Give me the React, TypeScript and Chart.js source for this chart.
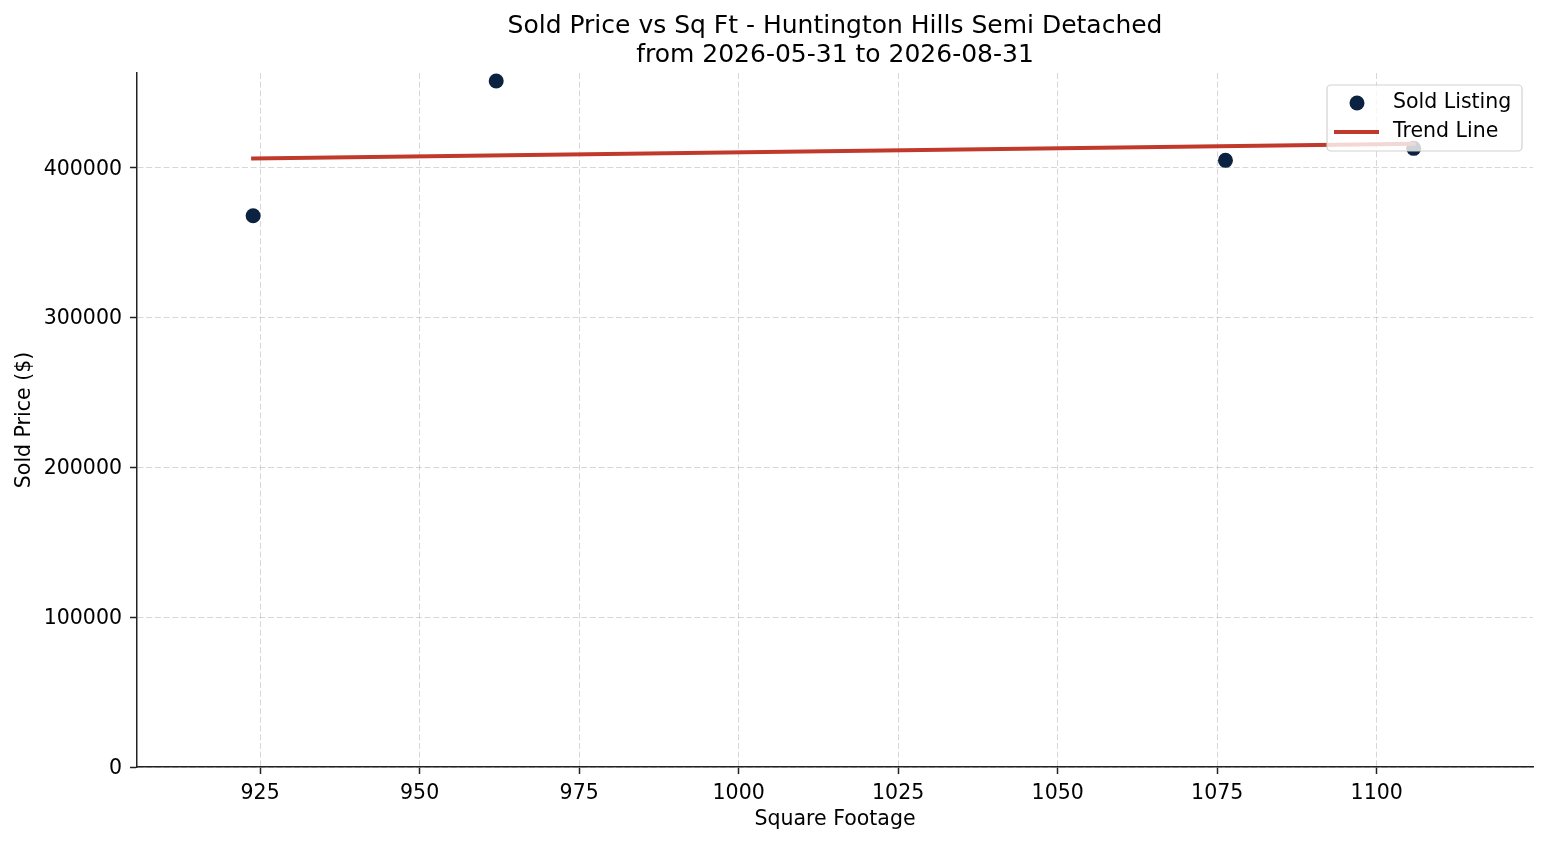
import React, { useEffect, useRef } from "react";
import { Chart, registerables } from "chart.js";

Chart.register(...registerables);

const titleLines = [
  "Sold Price vs Sq Ft - Huntington Hills Semi Detached",
  "from 2026-05-31 to 2026-08-31",
];
const xAxisTitle = "Square Footage";
const yAxisTitle = "Sold Price ($)";

const sqft = [923.9, 962.0, 1076.3, 1105.8];
const soldPrices = [368000, 458000, 405000, 413000];
const trendX = [923.9, 1105.8];
const trendY = [406200, 416000];

const xTicks = [925, 950, 975, 1000, 1025, 1050, 1075, 1100];
const yTicks = [0, 100000, 200000, 300000, 400000];
const xRange = [905.7, 1124.5];
const yRange = [0, 463300];

const seriesNames = ["Sold Listing", "Trend Line"];
const POINT_COLOR = "#0b2341";
const LINE_COLOR = "#c0392b";
const FONT = "'DejaVu Sans', sans-serif";

const legendPlugin = {
  id: "customLegend",
  afterDraw(chart: any) {
    const ctx = chart.ctx;
    const area = chart.chartArea;
    const w = 195;
    const h = 66;
    const x = area.right - 11 - w;
    const y = area.top + 12;
    ctx.save();
    ctx.beginPath();
    const r = 4;
    ctx.moveTo(x + r, y);
    ctx.lineTo(x + w - r, y);
    ctx.arcTo(x + w, y, x + w, y + r, r);
    ctx.lineTo(x + w, y + h - r);
    ctx.arcTo(x + w, y + h, x + w - r, y + h, r);
    ctx.lineTo(x + r, y + h);
    ctx.arcTo(x, y + h, x, y + h - r, r);
    ctx.lineTo(x, y + r);
    ctx.arcTo(x, y, x + r, y, r);
    ctx.closePath();
    ctx.fillStyle = "rgba(255,255,255,0.8)";
    ctx.fill();
    ctx.strokeStyle = "rgba(204,204,204,0.9)";
    ctx.lineWidth = 1.2;
    ctx.stroke();

    // marker
    ctx.beginPath();
    ctx.arc(x + 30, y + 18, 7.5, 0, Math.PI * 2);
    ctx.fillStyle = POINT_COLOR;
    ctx.fill();
    // line sample
    ctx.beginPath();
    ctx.moveTo(x + 7, y + 47);
    ctx.lineTo(x + 52, y + 47);
    ctx.strokeStyle = LINE_COLOR;
    ctx.lineWidth = 4;
    ctx.stroke();

    ctx.fillStyle = "#000";
    ctx.font = `20.5px ${FONT}`;
    ctx.textBaseline = "middle";
    ctx.textAlign = "left";
    ctx.fillText(seriesNames[0], x + 66, y + 18);
    ctx.fillText(seriesNames[1], x + 66, y + 47);
    ctx.restore();
  },
};

export default function App() {
  const canvasRef = useRef<HTMLCanvasElement | null>(null);

  useEffect(() => {
    const canvas = canvasRef.current;
    if (!canvas) return;
    const scatterData = sqft.map((x, i) => ({ x, y: soldPrices[i] }));
    const trendData = trendX.map((x, i) => ({ x, y: trendY[i] }));

    const gridCommon = {
      color: "rgba(176,176,176,0.5)",
      lineWidth: 1,
      tickColor: "#222",
      tickWidth: 1.5,
      tickLength: 7,
      tickBorderDash: [],
    };

    const chart = new Chart(canvas, {
      type: "scatter",
      data: {
        datasets: [
          {
            type: "line",
            label: seriesNames[1],
            data: trendData,
            borderColor: LINE_COLOR,
            borderWidth: 4,
            borderCapStyle: "square",
            pointRadius: 0,
            fill: false,
            order: 0,
          } as any,
          {
            type: "scatter",
            label: seriesNames[0],
            data: scatterData,
            backgroundColor: POINT_COLOR,
            borderWidth: 0,
            pointRadius: 7.5,
            order: 1,
          },
        ],
      },
      options: {
        animation: false,
        responsive: false,
        maintainAspectRatio: false,
        devicePixelRatio: 1,
        layout: { padding: { left: 0, right: 14, top: 0, bottom: 0 } },
        plugins: {
          legend: { display: false },
          tooltip: { enabled: false },
          title: {
            display: true,
            fullSize: false,
            text: titleLines,
            color: "#000",
            font: { family: FONT, size: 25, weight: "normal", lineHeight: 1.16 },
            padding: { top: 12, bottom: 3 },
          },
        },
        scales: {
          x: {
            type: "linear",
            min: xRange[0],
            max: xRange[1],
            afterBuildTicks: (scale: any) => {
              scale.ticks = xTicks.map((v) => ({ value: v }));
            },
            afterFit: (scale: any) => {
              scale.height = 78;
            },
            grid: gridCommon,
            border: { display: true, color: "#222", width: 1.5, dash: [6, 2.7] },
            ticks: {
              color: "#000",
              padding: 7,
              font: { family: FONT, size: 20.5 },
              callback: (v: any) => String(v),
              maxRotation: 0,
              autoSkip: false,
            },
            title: {
              display: true,
              text: xAxisTitle,
              color: "#000",
              font: { family: FONT, size: 20.5 },
              padding: { top: 0, bottom: 13 },
            },
          },
          y: {
            type: "linear",
            min: yRange[0],
            max: yRange[1],
            afterBuildTicks: (scale: any) => {
              scale.ticks = yTicks.map((v) => ({ value: v }));
            },
            afterFit: (scale: any) => {
              scale.width = 137;
            },
            grid: gridCommon,
            border: { display: true, color: "#222", width: 1.5, dash: [6, 2.7] },
            ticks: {
              color: "#000",
              padding: 8,
              labelOffset: 1.5,
              font: { family: FONT, size: 20.5 },
              callback: (v: any) => String(v),
              autoSkip: false,
            },
            title: {
              display: true,
              text: yAxisTitle,
              color: "#000",
              font: { family: FONT, size: 20.5 },
              padding: { top: 12, bottom: 0 },
            },
          },
        },
      },
      plugins: [legendPlugin],
    } as any);

    return () => chart.destroy();
  }, []);

  return (
    <div
      style={{
        position: "fixed",
        left: 0,
        top: 0,
        width: 1547,
        height: 845,
        background: "#fff",
      }}
    >
      <canvas ref={canvasRef} width={1547} height={845} style={{ display: "block" }} />
    </div>
  );
}
